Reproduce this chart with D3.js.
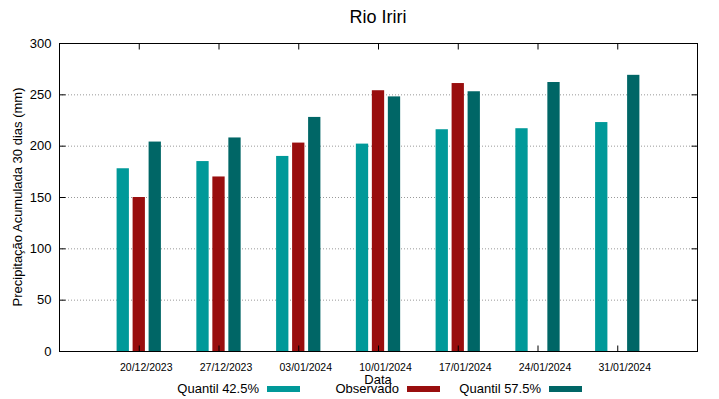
<!DOCTYPE html>
<html>
<head>
<meta charset="utf-8">
<script src="https://cdn.jsdelivr.net/npm/d3@7.9.0/dist/d3.min.js"></script>
<style>
  body { margin: 0; background: #fff; }
  text { font-family: "Liberation Sans", Arial, sans-serif; fill: #000; }
</style>
</head>
<body>
<div id="chart"></div>
<script>
// Data
const dates = ["20/12/2023", "27/12/2023", "03/01/2024", "10/01/2024", "17/01/2024", "24/01/2024", "31/01/2024"];
const quantil425 = [178, 185, 190, 202, 216, 217, 223];
const observado = [150, 170, 203, 254, 261, null, null];
const quantil575 = [204, 208, 228, 248, 253, 262, 269];
const yTicks = [0, 50, 100, 150, 200, 250, 300];

const series = [
  { name: "Quantil 42.5%", values: quantil425, color: "#009999", offset: -1 },
  { name: "Observado", values: observado, color: "#990e0e", offset: 0 },
  { name: "Quantil 57.5%", values: quantil575, color: "#006666", offset: 1 },
];

const W = 719, H = 399;
const margin = { top: 43, right: 22, bottom: 48, left: 59 };
const width = W - margin.left - margin.right;
const height = H - margin.top - margin.bottom;

const svg = d3.select("#chart").append("svg")
  .attr("width", W).attr("height", H);

const g = svg.append("g").attr("transform", `translate(${margin.left},${margin.top})`);

// x: one slot per date with an empty slot at each end
const x = d3.scaleLinear().domain([-1, dates.length]).range([0, width]);
const y = d3.scaleLinear().domain([0, 300]).range([height, 0]);
const barW = 12.3, step = 16;

// dotted grid
g.selectAll(".grid").data(yTicks.slice(1, -1)).enter().append("line")
  .attr("x1", 0).attr("x2", width)
  .attr("y1", d => y(d) + 0.5).attr("y2", d => y(d) + 0.5)
  .attr("stroke", "#999").attr("stroke-width", 1).attr("stroke-dasharray", "1,2");

// bars
series.forEach(s => {
  g.selectAll(null).data(s.values.map((v, i) => ({ v, i })).filter(d => d.v != null))
    .enter().append("rect")
    .attr("x", d => x(d.i) + s.offset * step - barW / 2)
    .attr("width", barW)
    .attr("y", d => y(d.v))
    .attr("height", d => y(0) - y(d.v))
    .attr("fill", s.color);
});

// frame
g.append("rect").attr("x", 0.5).attr("y", 0.5).attr("width", width).attr("height", height)
  .attr("fill", "none").attr("stroke", "#000").attr("stroke-width", 1);

// inward ticks, bottom and mirrored at top
const xIdx = d3.range(dates.length);
const xb = g.append("g").attr("transform", `translate(0,${height + 0.5})`)
  .call(d3.axisBottom(x).tickValues(xIdx).tickFormat(i => dates[i]).tickSizeInner(-6).tickSizeOuter(0).tickPadding(12));
xb.select(".domain").remove();
xb.selectAll("text").style("font-size", "10.5px").attr("dx", 7);
const xt = g.append("g").attr("transform", "translate(0,0.5)")
  .call(d3.axisTop(x).tickValues(xIdx).tickFormat("").tickSizeInner(-6).tickSizeOuter(0));
xt.select(".domain").remove();

const yl = g.append("g").attr("transform", "translate(0.5,0)")
  .call(d3.axisLeft(y).tickValues(yTicks).tickSizeInner(-6).tickSizeOuter(0).tickPadding(8));
yl.select(".domain").remove();
yl.selectAll("text").style("font-size", "13px");
const yr = g.append("g").attr("transform", `translate(${width + 0.5},0)`)
  .call(d3.axisRight(y).tickValues(yTicks).tickFormat("").tickSizeInner(-6).tickSizeOuter(0));
yr.select(".domain").remove();

// title and axis labels
svg.append("text").attr("x", margin.left + width / 2).attr("y", 23)
  .attr("text-anchor", "middle").style("font-size", "18px").text("Rio Iriri");

svg.append("text").attr("x", margin.left + width / 2).attr("y", 384)
  .attr("text-anchor", "middle").style("font-size", "13px").text("Data");

svg.append("text").attr("transform", "rotate(-90)")
  .attr("x", -(margin.top + height / 2)).attr("y", 22)
  .attr("text-anchor", "middle").style("font-size", "13px")
  .text("Precipitação Acumulada 30 dias (mm)");

// legend
const legendX = [259, 399, 541];
series.forEach((s, i) => {
  svg.append("text").attr("x", legendX[i]).attr("y", 393)
    .attr("text-anchor", "end").style("font-size", "13px").text(s.name);
  svg.append("rect").attr("x", legendX[i] + 8).attr("y", 386)
    .attr("width", 33).attr("height", 6).attr("fill", s.color);
});
</script>
</body>
</html>
